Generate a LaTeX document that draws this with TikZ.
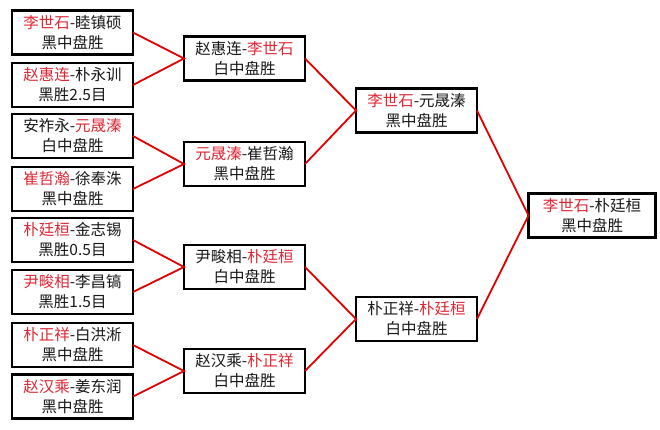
\documentclass[tikz,border=0pt]{standalone}
\usepackage{fontspec}
\setmainfont{Noto Sans CJK SC}
\definecolor{rc}{RGB}{222,40,52}
\definecolor{lc}{RGB}{226,0,0}
\newcommand\hl[1]{\textcolor{rc}{#1}}
\tikzset{
  game/.style={draw=black, line width=2.3pt, fill=white, minimum width=121pt, minimum height=44pt,
    inner sep=0pt, outer sep=0pt, align=center, font=\fontsize{15.5}{20}\selectfont, text=black!90},
  link/.style={draw=lc, line width=1.8pt}
}
\begin{document}
\begin{tikzpicture}[x=1pt,y=-1pt]
\useasboundingbox[fill=white] (0,0) rectangle (660,429);
% round 1
\node[game] (a1) at (72.5,32.5) {\hl{李世石}-睦镇硕\\黑中盘胜};
\node[game] (a2) at (72.5,85) {\hl{赵惠连}-朴永训\\黑胜2.5目};
\node[game] (a3) at (72.5,136) {安祚永-\hl{元晟溱}\\白中盘胜};
\node[game] (a4) at (72.5,189) {\hl{崔哲瀚}-徐奉洙\\黑中盘胜};
\node[game] (a5) at (72.5,240) {\hl{朴廷桓}-金志锡\\黑胜0.5目};
\node[game] (a6) at (72.5,292) {\hl{尹畯相}-李昌镐\\黑胜1.5目};
\node[game] (a7) at (72.5,345) {\hl{朴正祥}-白洪淅\\黑中盘胜};
\node[game] (a8) at (72.5,396.5) {\hl{赵汉乘}-姜东润\\黑中盘胜};
% round 2
\node[game] (b1) at (244.5,58.5) {赵惠连-\hl{李世石}\\白中盘胜};
\node[game] (b2) at (244.5,164) {\hl{元晟溱}-崔哲瀚\\黑中盘胜};
\node[game] (b3) at (244.5,267) {尹畯相-\hl{朴廷桓}\\白中盘胜};
\node[game] (b4) at (244.5,371) {赵汉乘-\hl{朴正祥}\\白中盘胜};
% round 3
\node[game] (c1) at (416.5,110.5) {\hl{李世石}-元晟溱\\黑中盘胜};
\node[game] (c2) at (416.5,319) {朴正祥-\hl{朴廷桓}\\白中盘胜};
% final
\node[game, minimum width=127pt] (d1) at (592,215.5) {\hl{李世石}-朴廷桓\\黑中盘胜};
% connectors
\draw[link] (a1.east) -- (b1.west) -- (a2.east);
\draw[link] (a3.east) -- (b2.west) -- (a4.east);
\draw[link] (a5.east) -- (b3.west) -- (a6.east);
\draw[link] (a7.east) -- (b4.west) -- (a8.east);
\draw[link] (b1.east) -- (c1.west) -- (b2.east);
\draw[link] (b3.east) -- (c2.west) -- (b4.east);
\draw[link] (c1.east) -- (d1.west) -- (c2.east);
\end{tikzpicture}
\end{document}
